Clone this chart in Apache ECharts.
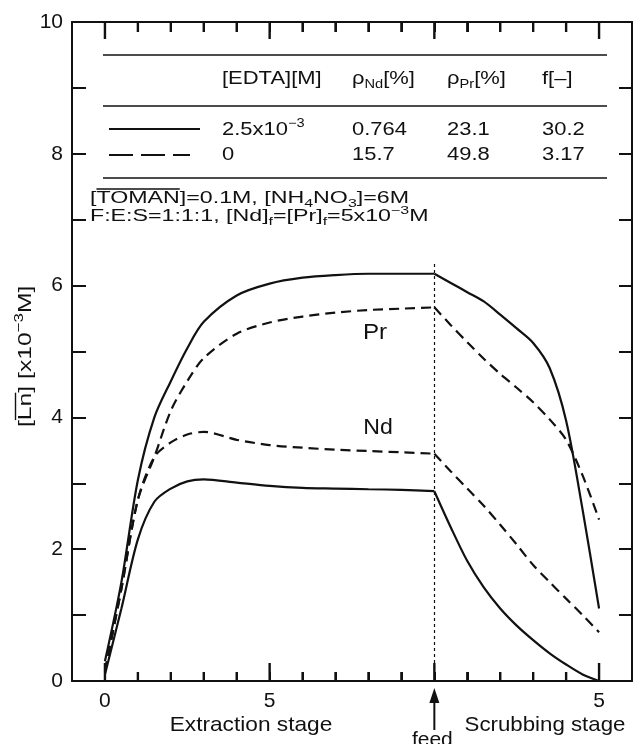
<!DOCTYPE html>
<html>
<head>
<meta charset="utf-8">
<script src="https://cdn.jsdelivr.net/npm/echarts@6/dist/echarts.min.js"></script>
<style>
  html, body { margin: 0; padding: 0; background: #fff; }
  #c { width: 635px; height: 744px; }
</style>
</head>
<body>
<div id="c"></div>
<script>
// Stage positions: extraction stages count from 0 up to the feed stage,
// scrubbing stages count again from 0 starting at the feed.
const extractionStages = [0, 0.5, 1, 1.5, 2, 2.5, 3, 4, 5, 6, 7, 8, 9, 10];
const scrubbingStages = [0, 0.5, 1, 1.5, 2, 2.5, 3, 3.5, 4, 4.5, 5];
const feedStage = 10;
const feedLineTop = 6.36;

// Organic-phase concentration [Ln] (x10^-3 M)
const prEdtaExtraction = [0.3, 1.5, 3.05, 4.0, 4.55, 5.05, 5.45, 5.85, 6.03, 6.12, 6.16, 6.18, 6.18, 6.18];
const prEdtaScrubbing  = [6.18, 6.04, 5.9, 5.76, 5.56, 5.35, 5.13, 4.75, 3.95, 2.6, 1.1];
const prNoEdtaExtraction = [0.15, 1.4, 2.75, 3.4, 4.1, 4.55, 4.9, 5.27, 5.44, 5.53, 5.59, 5.63, 5.65, 5.67];
const prNoEdtaScrubbing  = [5.67, 5.4, 5.14, 4.89, 4.66, 4.45, 4.23, 3.97, 3.66, 3.12, 2.45];
const ndEdtaExtraction = [0.1, 1.1, 2.15, 2.72, 2.92, 3.03, 3.06, 3.01, 2.96, 2.93, 2.92, 2.91, 2.9, 2.88];
const ndEdtaScrubbing  = [2.88, 2.33, 1.82, 1.42, 1.1, 0.84, 0.62, 0.42, 0.25, 0.1, 0.0];
const ndNoEdtaExtraction = [0.15, 1.4, 2.75, 3.4, 3.62, 3.74, 3.78, 3.66, 3.58, 3.54, 3.51, 3.49, 3.47, 3.45];
const ndNoEdtaScrubbing  = [3.45, 3.18, 2.92, 2.66, 2.37, 2.07, 1.76, 1.5, 1.25, 1.0, 0.74];

// Axis ranges, ticks and labels
const xMin = -1, xMax = 16;
const xMinorTicks = [1, 2, 3, 4, 6, 7, 8, 9, 11, 12, 13, 14];
const xMajorTicks = [0, 5, 10, 15];
const xTickLabels = { 0: '0', 5: '5', 15: '5' };
const yMin = 0, yMax = 10;
const yLabelValues = [0, 2, 4, 6, 8, 10];

// Summary table
const tableEdta = [[{ t: '2.5x10' }, { t: '\u22123', sup: true }], [{ t: '0' }]];
const tableRhoNd = ['0.764', '15.7'];
const tableRhoPr = ['23.1', '49.8'];
const tableF = ['30.2', '3.17'];

const FONT = '"Liberation Sans", Arial, Helvetica, sans-serif';
const ink = '#111';

const chart = echarts.init(document.getElementById('c'), null, { renderer: 'canvas', width: 635, height: 744 });

function pairs(stages, vals, offset) {
  return stages.map((s, i) => [s + offset, vals[i]]);
}

function curve(name, data, dashed) {
  return {
    type: 'line', name, data,
    xAxisIndex: 0, yAxisIndex: 0,
    symbol: 'none', showSymbol: false,
    smooth: 0.3,
    lineStyle: { color: ink, width: 2.2, type: dashed ? [10, 6] : 'solid' },
    silent: true, z: 3
  };
}

const series = [
  curve('Pr EDTA ext', pairs(extractionStages, prEdtaExtraction, 0), false),
  curve('Pr EDTA scr', pairs(scrubbingStages, prEdtaScrubbing, feedStage), false),
  curve('Pr 0 ext', pairs(extractionStages, prNoEdtaExtraction, 0), true),
  curve('Pr 0 scr', pairs(scrubbingStages, prNoEdtaScrubbing, feedStage), true),
  curve('Nd EDTA ext', pairs(extractionStages, ndEdtaExtraction, 0), false),
  curve('Nd EDTA scr', pairs(scrubbingStages, ndEdtaScrubbing, feedStage), false),
  curve('Nd 0 ext', pairs(extractionStages, ndNoEdtaExtraction, 0), true),
  curve('Nd 0 scr', pairs(scrubbingStages, ndNoEdtaScrubbing, feedStage), true)
];

// dotted marker at the feed stage
series[0].markLine = {
  silent: true, symbol: ['none', 'none'], animation: false,
  label: { show: false },
  lineStyle: { color: ink, width: 1.2, type: [3, 3] },
  data: [[{ coord: [feedStage, 0] }, { coord: [feedStage, feedLineTop] }]]
};

// Stage ticks on the bottom and top edges, drawn through the axis scales.
const MINOR_BOTTOM = 9, MINOR_TOP = 10, MAJOR_BOTTOM = 18, MAJOR_TOP = 17;
series.push({
  type: 'custom', name: 'stage ticks',
  xAxisIndex: 0, yAxisIndex: 0, silent: true, z: 8, clip: false,
  data: xMinorTicks.concat(xMajorTicks).map(v => [v, yMin]),
  renderItem: (params, api) => {
    const v = api.value(0);
    const major = xMajorTicks.indexOf(v) >= 0;
    const lb = major ? MAJOR_BOTTOM : MINOR_BOTTOM;
    const lt = major ? MAJOR_TOP : MINOR_TOP;
    const pb = api.coord([v, yMin]);
    const pt = api.coord([v, yMax]);
    return {
      type: 'group',
      children: [
        { type: 'rect', shape: { x: pb[0] - 1.2, y: pb[1] - lb, width: 2.4, height: lb }, style: { fill: ink } },
        { type: 'rect', shape: { x: pt[0] - 1.2, y: pt[1], width: 2.4, height: lt }, style: { fill: ink } }
      ]
    };
  }
});

const frameLine = () => ({ show: true, onZero: false, lineStyle: { color: ink, width: 2 } });
const tick = len => ({ show: true, inside: true, length: len, lineStyle: { color: ink, width: 2 } });

chart.setOption({
  animation: false,
  backgroundColor: '#fff',
  grid: { left: 72, right: 1, top: 22, bottom: 63, containLabel: false },
  xAxis: [
    {
      type: 'value', min: xMin, max: xMax, interval: 1, position: 'bottom',
      splitLine: { show: false }, axisLine: frameLine(), axisTick: tick(9),
      axisLabel: {
        margin: 10, fontSize: 21, fontFamily: FONT, color: ink,
        formatter: v => (xTickLabels[v] !== undefined ? xTickLabels[v] : '')
      }
    },
    {
      type: 'value', min: xMin, max: xMax, interval: 1, position: 'top',
      splitLine: { show: false }, axisLine: frameLine(), axisTick: tick(10),
      axisLabel: { show: false }
    }
  ],
  yAxis: [
    {
      type: 'value', min: yMin, max: yMax, interval: 1, position: 'left',
      splitLine: { show: false }, axisLine: frameLine(), axisTick: tick(14),
      axisLabel: {
        margin: 9, fontSize: 21, fontFamily: FONT, color: ink,
        padding: [5, 0, 0, 0],
        formatter: v => (yLabelValues.indexOf(v) >= 0 ? String(v) : '')
      }
    },
    {
      type: 'value', min: yMin, max: yMax, interval: 1, position: 'right',
      splitLine: { show: false }, axisLine: frameLine(), axisTick: tick(13),
      axisLabel: { show: false }
    }
  ],
  series
});

// ---- text and annotation layer ----
const meas = document.createElement('canvas').getContext('2d');
function textWidth(t, fs) { meas.font = fs + 'px ' + FONT; return meas.measureText(t).width; }

function textEl(t, x, y, fs, k, align) {
  return {
    type: 'text', x, y, scaleX: k, silent: true,
    style: {
      text: t, font: fs + 'px ' + FONT, fill: ink,
      textAlign: align || 'left', align: align || 'left',
      textVerticalAlign: 'middle', verticalAlign: 'middle'
    }
  };
}

// lays out text segments with sub/superscripts; returns the span of each segment
function run(segs, x0, y0, fs, k, out) {
  let x = x0;
  const spans = [];
  segs.forEach(s => {
    const small = s.sub || s.sup;
    const f = small ? Math.round(fs * 0.68) : fs;
    const dy = s.sub ? fs * 0.32 : (s.sup ? -fs * 0.36 : 0);
    out.push(textEl(s.t, x, y0 + dy, f, k));
    const w = textWidth(s.t, f) * k;
    spans.push([x, x + w]);
    x += w;
  });
  return spans;
}

function seg(x1, y1, x2, y2, w, dash) {
  return {
    type: 'line', silent: true,
    shape: { x1, y1, x2, y2 },
    style: { stroke: ink, lineWidth: w, lineDash: dash || null }
  };
}
const hline = (x1, x2, y, w, dash) => seg(x1, y, x2, y, w, dash);

const g = [];
const axisY = chart.convertToPixel({ yAxisIndex: 0 }, yMin);

const tfs = 18, tk = 1.22;
const colX = [222, 352, 447, 542];
const headerY = 79, rowY = [130, 155];

g.push(hline(103, 607, 55, 1.6));
g.push(hline(103, 607, 106, 1.6));
g.push(hline(103, 607, 178, 1.6));

run([{ t: '[EDTA][M]' }], colX[0], headerY, tfs, tk, g);
run([{ t: '\u03c1' }, { t: 'Nd', sub: true }, { t: '[%]' }], colX[1], headerY, tfs, tk, g);
run([{ t: '\u03c1' }, { t: 'Pr', sub: true }, { t: '[%]' }], colX[2], headerY, tfs, tk, g);
run([{ t: 'f[\u2013]' }], colX[3], headerY, tfs, tk, g);

for (let i = 0; i < 2; i++) {
  run(tableEdta[i], colX[0], rowY[i], tfs, tk, g);
  run([{ t: tableRhoNd[i] }], colX[1], rowY[i], tfs, tk, g);
  run([{ t: tableRhoPr[i] }], colX[2], rowY[i], tfs, tk, g);
  run([{ t: tableF[i] }], colX[3], rowY[i], tfs, tk, g);
}
g.push(hline(109, 200, 129, 2.2));
g.push(hline(109, 190, 155, 2.2, [24, 8]));

// operating conditions
const cfs = 16, ck = 1.45;
const condSpans = run([
  { t: '[' }, { t: 'TOMAN' }, { t: ']=0.1M, [NH' }, { t: '4', sub: true },
  { t: 'NO' }, { t: '3', sub: true }, { t: ']=6M' }
], 90, 199, cfs, ck, g);
g.push(hline(condSpans[1][0], condSpans[1][1], 189, 1.4));
run([
  { t: 'F:E:S=1:1:1, [Nd]' }, { t: 'f', sub: true }, { t: '=[Pr]' }, { t: 'f', sub: true },
  { t: '=5x10' }, { t: '\u22123', sup: true }, { t: 'M' }
], 90, 217, cfs, ck, g);

// curve labels
g.push(textEl('Pr', 375, 333, 22, 1.1, 'center'));
g.push(textEl('Nd', 378, 428, 22, 1.05, 'center'));

// y-axis title, rotated
const yk = 1.3, yfs = 19;
const yTitle = [];
const ySpans = run([
  { t: '[' }, { t: 'Ln' }, { t: '] [x10' }, { t: '\u22123', sup: true }, { t: 'M]' }
], 0, 0, yfs, yk, yTitle);
yTitle.push(hline(ySpans[1][0], ySpans[1][1], -yfs * 0.5 - 1, 1.4));
g.push({ type: 'group', x: 26, y: 427, rotation: Math.PI / 2, children: yTitle });

// stage captions
g.push(textEl('Extraction stage', 251, 725, 21, 1.08, 'center'));
g.push(textEl('Scrubbing stage', 545, 725, 21, 1.06, 'center'));

// feed arrow below the axis
const feedX = chart.convertToPixel({ xAxisIndex: 0 }, feedStage);
g.push(seg(feedX, axisY + 18, feedX, axisY + 49, 2));
g.push({
  type: 'polygon', silent: true,
  shape: { points: [[feedX, axisY + 7], [feedX - 5, axisY + 22], [feedX + 5, axisY + 22]] },
  style: { fill: ink }
});
g.push(textEl('feed', feedX - 2, 740, 20, 1.05, 'center'));

chart.setOption({ graphic: g });
</script>
</body>
</html>
